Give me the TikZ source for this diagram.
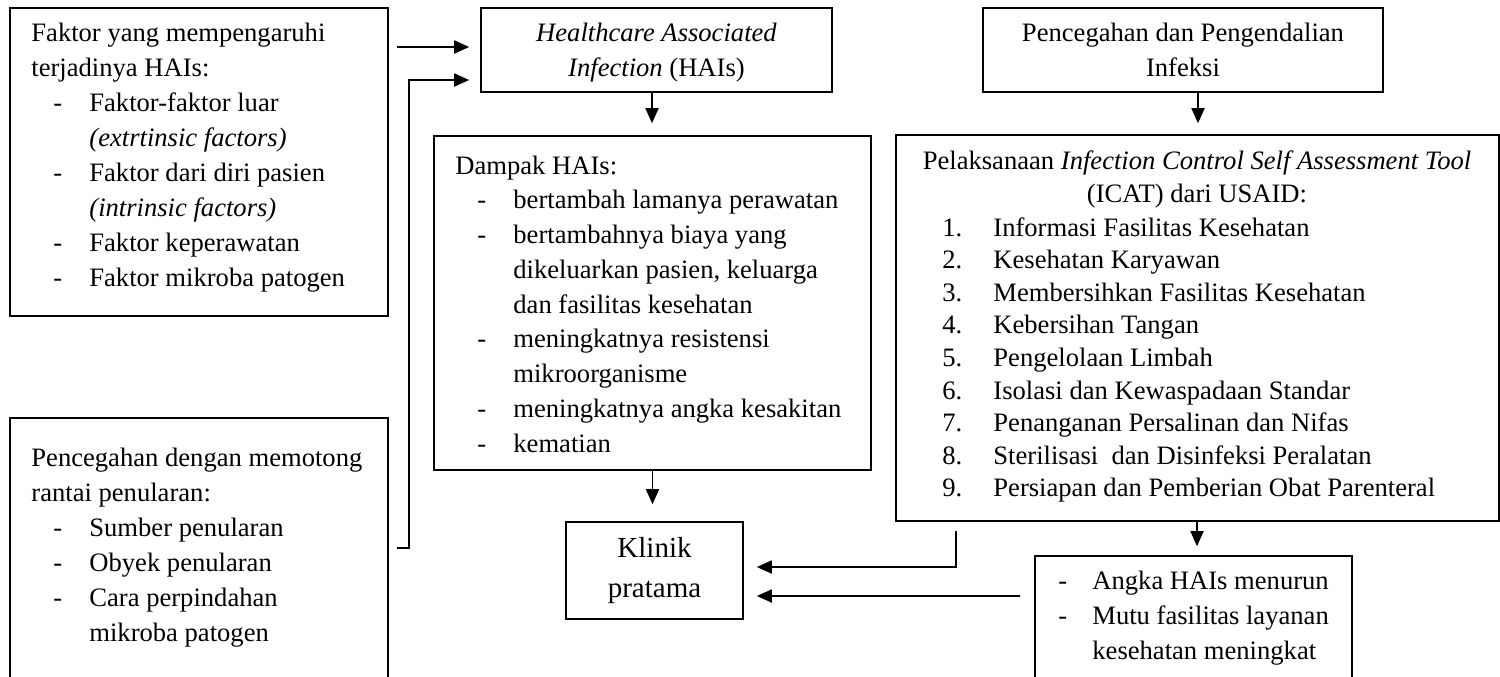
\documentclass[tikz,border=0pt]{standalone}
\usepackage{fontspec}
\setmainfont{Liberation Serif}
\usetikzlibrary{arrows.meta,fit}
\newcommand\dl[1]{\hspace*{11pt}\makebox[18pt][l]{-}#1}
\newcommand\cl[1]{\hspace*{29pt}#1}
\newcommand\nl[2]{\makebox[25.5pt][l]{#1}#2}
\newcommand\lblk[3]{\vtop{\hsize=#1\parindent=0pt\fontsize{13.3pt}{#2}\selectfont #3\par}}
\newcommand\cblk[4]{\vtop{\hsize=#1\parindent=0pt\centering\fontsize{#3}{#2}\selectfont #4\par}}
\begin{document}
\begin{tikzpicture}[x=0.5pt,y=-0.5pt,
  box/.style={draw, line width=0.8pt, inner sep=0pt},
  txt/.style={inner sep=0pt, anchor=base west},
  ctxt/.style={inner sep=0pt, anchor=base},
  arr/.style={line width=0.9pt, -{Triangle[length=7.5pt,width=6.5pt]}}]
\useasboundingbox (0,0) rectangle (1500,676);
\fill[white] (0,0) rectangle (1500,676);

% boxes
\node[box, fit={(10,8) (388,316)}] (faktor) {};
\node[box, fit={(10,418) (388,690)}] (cegah) {};
\node[box, fit={(481,8) (832,92)}] (hais) {};
\node[box, fit={(983,8) (1383,92)}] (ppi) {};
\node[box, fit={(434,136) (871,470)}] (dampak) {};
\node[box, fit={(896,135) (1499,521)}] (icat) {};
\node[box, fit={(566,522) (743,619)}] (klinik) {};
\node[box, fit={(1035,556) (1352,690)}] (angka) {};

% texts
\node[txt] (tfaktor) at (31,41) {\lblk{300pt}{17.5pt}{%
Faktor yang mempengaruhi\\
terjadinya HAIs:\\
\dl{Faktor-faktor luar}\\
\cl{\textit{(extrtinsic factors)}}\\
\dl{Faktor dari diri pasien}\\
\cl{\textit{(intrinsic factors)}}\\
\dl{Faktor keperawatan}\\
\dl{Faktor mikroba patogen}}};

\node[txt] (tcegah) at (31,466) {\lblk{300pt}{17.5pt}{%
Pencegahan dengan memotong\\
rantai penularan:\\
\dl{Sumber penularan}\\
\dl{Obyek penularan}\\
\dl{Cara perpindahan}\\
\cl{mikroba patogen}}};

\node[txt] (tdampak) at (455,174) {\lblk{300pt}{17.375pt}{%
Dampak HAIs:\\
\dl{bertambah lamanya perawatan}\\
\dl{bertambahnya biaya yang}\\
\cl{dikeluarkan pasien, keluarga}\\
\cl{dan fasilitas kesehatan}\\
\dl{meningkatnya resistensi}\\
\cl{mikroorganisme}\\
\dl{meningkatnya angka kesakitan}\\
\dl{kematian}}};

\node[ctxt] (thais) at (656.5,41) {\cblk{170pt}{17.5pt}{13.3pt}{%
\textit{Healthcare Associated}\\
\textit{Infection} (HAIs)}};

\node[ctxt] (tppi) at (1183,41) {\cblk{195pt}{17.5pt}{13.3pt}{%
Pencegahan dan Pengendalian\\
Infeksi}};

\node[ctxt] (ticath) at (1197,169) {\cblk{295pt}{16.5pt}{13.3pt}{%
Pelaksanaan \textit{Infection Control Self Assessment Tool}\\
(ICAT) dari USAID:}};

\node[txt] (ticatl) at (942,236) {\lblk{280pt}{16.3pt}{%
\nl{1.}{Informasi Fasilitas Kesehatan}\\
\nl{2.}{Kesehatan Karyawan}\\
\nl{3.}{Membersihkan Fasilitas Kesehatan}\\
\nl{4.}{Kebersihan Tangan}\\
\nl{5.}{Pengelolaan Limbah}\\
\nl{6.}{Isolasi dan Kewaspadaan Standar}\\
\nl{7.}{Penanganan Persalinan dan Nifas}\\
\nl{8.}{Sterilisasi\hspace{0.25em} dan Disinfeksi Peralatan}\\
\nl{9.}{Persiapan dan Pemberian Obat Parenteral}}};

\node[ctxt] (tklinik) at (654.5,557) {\cblk{80pt}{20pt}{14.5pt}{%
Klinik\\
pratama}};

\node[txt] (tangka) at (1058,589) {\lblk{150pt}{17.5pt}{%
\makebox[17pt][l]{-}Angka HAIs menurun\\
\makebox[17pt][l]{-}Mutu fasilitas layanan\\
\hspace*{17pt}kesehatan meningkat}};

% connectors
\coordinate (s1) at (397,47);
\draw[arr, shorten >=5.5pt] (s1) -- (s1 -| hais.west);
\coordinate (s2) at (397,548);
\coordinate (b2) at (409,80);
\draw[arr, shorten >=5.5pt] (s2) -| (b2) -- (b2 -| hais.west);
\coordinate (x3) at (652,0);
\draw[arr, shorten >=6pt] (hais.south -| x3) -- (dampak.north -| x3);
\coordinate (x4) at (1198,0);
\draw[arr, shorten >=5.5pt] (ppi.south -| x4) -- (icat.north -| x4);
\draw[arr, shorten >=8.5pt] (dampak.south) -- (dampak.south |- klinik.north);
\coordinate (x5) at (1197,0);
\draw[arr, shorten >=4.5pt] (icat.south -| x5) -- (angka.north -| x5);
\coordinate (s6) at (956,531);
\coordinate (r6) at (0,567);
\draw[arr, shorten >=6.5pt] (s6) |- (klinik.east |- r6);
\coordinate (s7) at (1020,596);
\draw[arr, shorten >=6.5pt] (s7) -- (klinik.east |- s7);
\end{tikzpicture}
\end{document}
